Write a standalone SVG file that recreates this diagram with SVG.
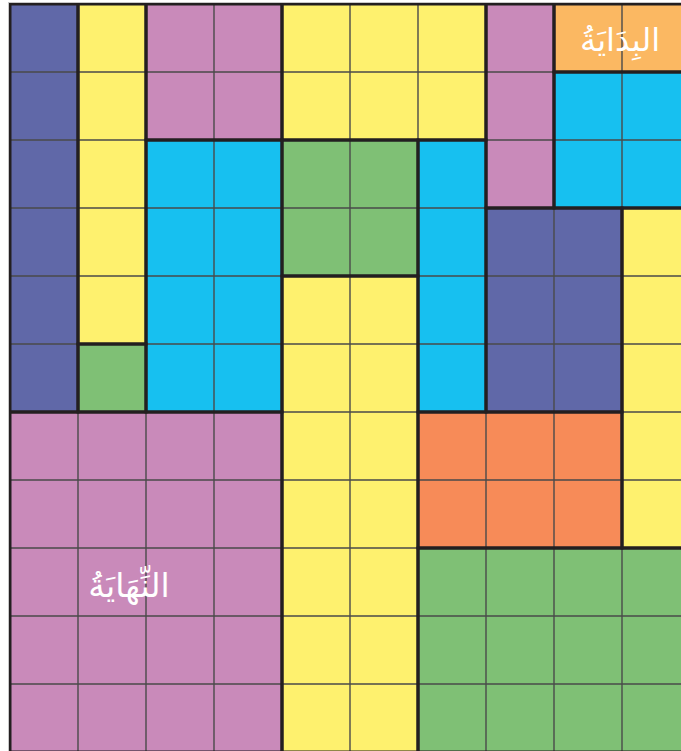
<svg xmlns="http://www.w3.org/2000/svg" width="681" height="751" viewBox="0 0 681 751">
<style>
.navy{fill:#6068a8}.yel{fill:#fef16e}.pink{fill:#c98aba}.cyan{fill:#17c0f0}.grn{fill:#7fc075}.org{fill:#f78b58}.lorg{fill:#fbb862}
.thin{stroke:#4a4a4a;stroke-width:1.4;fill:none}
.thick{fill:none;stroke:#231f20;stroke-width:3}
.lbl{font-family:"DejaVu Sans",sans-serif;fill:#ffffff;text-anchor:middle}
</style>
<rect x="0" y="0" width="681" height="751" fill="#ffffff"/>
<g id="regions">
<g id="r1"><rect class="navy" x="10" y="4" width="68" height="408"/></g>
<g id="r2"><rect class="yel" x="78" y="4" width="68" height="340"/></g>
<g id="r3"><rect class="pink" x="146" y="4" width="136" height="136"/></g>
<g id="r4"><rect class="yel" x="282" y="4" width="204" height="136"/></g>
<g id="r5"><rect class="pink" x="486" y="4" width="68" height="204"/></g>
<g id="r6"><rect class="lorg" x="554" y="4" width="136" height="68"/></g>
<g id="r7"><rect class="cyan" x="554" y="72" width="136" height="136"/></g>
<g id="r8"><rect class="cyan" x="146" y="140" width="136" height="272"/></g>
<g id="r9"><rect class="grn" x="282" y="140" width="136" height="136"/></g>
<g id="r10"><rect class="cyan" x="418" y="140" width="68" height="272"/></g>
<g id="r11"><rect class="navy" x="486" y="208" width="136" height="204"/></g>
<g id="r12"><rect class="yel" x="622" y="208" width="68" height="340"/></g>
<g id="r13"><rect class="yel" x="282" y="276" width="136" height="476"/></g>
<g id="r14"><rect class="grn" x="78" y="344" width="68" height="68"/></g>
<g id="r15"><rect class="pink" x="10" y="412" width="272" height="340"/></g>
<g id="r16"><rect class="org" x="418" y="412" width="204" height="136"/></g>
<g id="r17"><rect class="grn" x="418" y="548" width="272" height="204"/></g>
</g>
<g id="grid" class="thin">
<path d="M10 72H681M10 140H681M10 208H681M10 276H681M10 344H681M10 412H681M10 480H681M10 548H681M10 616H681M10 684H681"/>
<path d="M78 4V751M146 4V751M214 4V751M282 4V751M350 4V751M418 4V751M486 4V751M554 4V751M622 4V751"/>
</g>
<g id="borders" class="thick">
<rect x="10" y="4" width="68" height="408"/>
<rect x="78" y="4" width="68" height="340"/>
<rect x="146" y="4" width="136" height="136"/>
<rect x="282" y="4" width="204" height="136"/>
<rect x="486" y="4" width="68" height="204"/>
<rect x="554" y="4" width="136" height="68"/>
<rect x="554" y="72" width="136" height="136"/>
<rect x="146" y="140" width="136" height="272"/>
<rect x="282" y="140" width="136" height="136"/>
<rect x="418" y="140" width="68" height="272"/>
<rect x="486" y="208" width="136" height="204"/>
<rect x="622" y="208" width="68" height="340"/>
<rect x="282" y="276" width="136" height="476"/>
<rect x="78" y="344" width="68" height="68"/>
<rect x="10" y="412" width="272" height="340"/>
<rect x="418" y="412" width="204" height="136"/>
<rect x="418" y="548" width="272" height="204"/>
</g>
<path d="M8.5 751V2.5H681" fill="none" stroke="#c8c8c8" stroke-width="1"/>
<g id="labels">
<text class="lbl" x="620" y="51" font-size="32" direction="rtl">البِدَايَةُ</text>
<text class="lbl" x="129" y="597" font-size="33" direction="rtl">النِّهَايَةُ</text>
</g>
</svg>
